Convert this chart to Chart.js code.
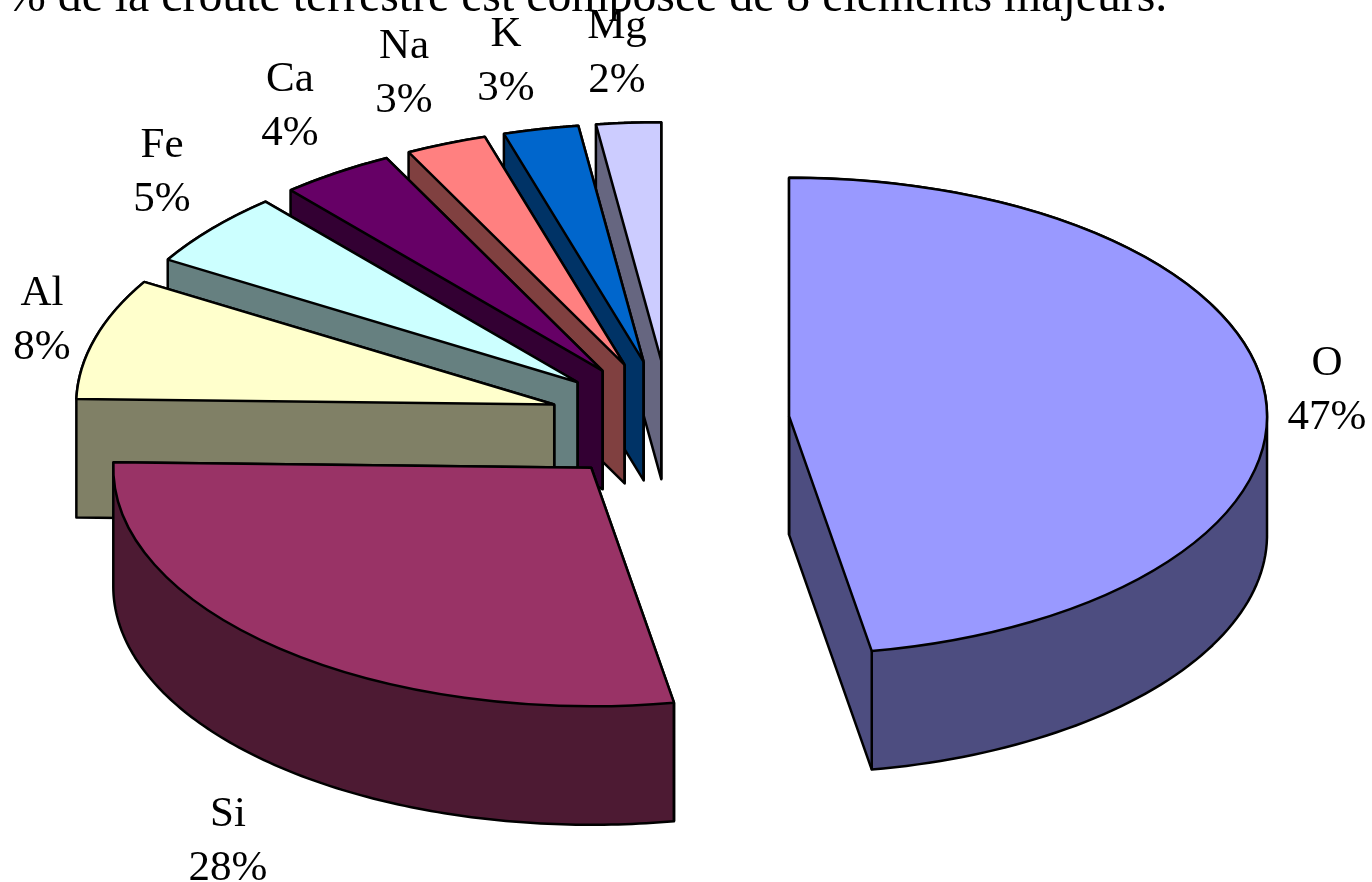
<!DOCTYPE html>
<html lang="fr">
<head>
<meta charset="utf-8">
<title>Croûte terrestre</title>
<script src="https://cdn.jsdelivr.net/npm/chart.js@4"></script>
<style>
  html, body { margin: 0; padding: 0; background: #fff; overflow: hidden; }
  canvas { display: block; }
</style>
</head>
<body>
<canvas id="chart" width="1372" height="882"></canvas>
<script>
const titleText = '% de la croûte terrestre est composée de 8 éléments majeurs.';
const elements = ['O', 'Si', 'Al', 'Fe', 'Ca', 'Na', 'K', 'Mg'];
const percents = [46.5, 27.7, 8.1, 5.0, 3.8, 2.7, 2.5, 2.15];
const topColors = ['#9999ff', '#993366', '#ffffcc', '#ccffff', '#660066', '#ff8080', '#0066cc', '#ccccff'];
const wallColors = ['#4d4d80', '#4d1a33', '#808066', '#668080', '#330033', '#804040', '#003366', '#666680'];

// centre of each label (x, y of the first line), same order as elements
const labelSpots = [[1327, 364], [228, 815], [42, 294], [162, 146], [290, 80], [404, 47], [506, 35], [617, 27]];

const pieWidth = 478;    // half width of the squashed pie
const pieHeight = 238.5; // half height
const pieDepth = 118.5;
const explodeX = 120;    // how far each slice is pulled out
const explodeY = 61;
const backToFront = [0, 7, 6, 5, 4, 3, 2, 1];

// lines keep the same width even though the context is squashed
function keepLineWidth(ctx) {
  const rawStroke = ctx.stroke;
  ctx.stroke = function() {
    this.save();
    this.setTransform(1, 0, 0, 1, 0, 0);
    rawStroke.call(this);
    this.restore();
  };
}

function sliceOrigin(arc) {
  const mid = (arc.startAngle + arc.endAngle) / 2;
  return {
    x: arc.x + Math.cos(mid) * explodeX,
    y: arc.y + Math.sin(mid) * explodeY
  };
}

function rimPoint(arc, angle) {
  const at = sliceOrigin(arc);
  return [at.x + Math.cos(angle) * pieWidth, at.y + Math.sin(angle) * pieHeight];
}

// convex hull, the slice body is the top face swept down by the depth
function hull(points) {
  const sorted = points.slice().sort((a, b) => a[0] - b[0] || a[1] - b[1]);
  const cross = (o, a, b) => (a[0] - o[0]) * (b[1] - o[1]) - (a[1] - o[1]) * (b[0] - o[0]);
  const half = list => {
    const out = [];
    list.forEach(p => {
      while (out.length > 1 && cross(out[out.length - 2], out[out.length - 1], p) <= 0) out.pop();
      out.push(p);
    });
    out.pop();
    return out;
  };
  return half(sorted).concat(half(sorted.slice().reverse()));
}

function drawBody(ctx, arc, color) {
  const at = sliceOrigin(arc);
  const face = [[at.x, at.y]];
  for (let t = 0; t <= 120; t++) {
    face.push(rimPoint(arc, arc.startAngle + (arc.endAngle - arc.startAngle) * t / 120));
  }
  const swept = face.concat(face.map(([x, y]) => [x, y + pieDepth]));
  ctx.beginPath();
  hull(swept).forEach(([x, y], i) => (i ? ctx.lineTo(x, y) : ctx.moveTo(x, y)));
  ctx.closePath();
  ctx.fillStyle = color;
  ctx.fill();
  ctx.lineWidth = 2.5;
  ctx.lineJoin = 'round';
  ctx.strokeStyle = '#000';
  ctx.stroke();

  // apex and front rim corners show an edge, the rest sits under the top face
  const corners = [[at.x, at.y]];
  [arc.startAngle, arc.endAngle].forEach(a => {
    if (Math.sin(a) > 0) corners.push(rimPoint(arc, a));
  });
  corners.forEach(([x, y]) => {
    ctx.beginPath();
    ctx.moveTo(x, y);
    ctx.lineTo(x, y + pieDepth);
    ctx.stroke();
  });
}

function drawTop(ctx, arc) {
  const at = sliceOrigin(arc);
  ctx.save();
  ctx.translate(at.x, at.y);
  ctx.scale(pieWidth / arc.outerRadius, pieHeight / arc.outerRadius);
  ctx.translate(-arc.x, -arc.y);
  arc.draw(ctx);
  ctx.restore();
}

const pie3d = {
  id: 'pie3d',
  beforeDatasetsDraw(chart) {
    const ctx = chart.ctx;
    const arcs = chart.getDatasetMeta(0).data;
    ctx.save();
    keepLineWidth(ctx);
    backToFront.forEach(i => {
      drawBody(ctx, arcs[i], wallColors[i]);
      drawTop(ctx, arcs[i]);
    });
    delete ctx.stroke;
    ctx.restore();
    return false;
  },
  afterDraw(chart) {
    const ctx = chart.ctx;
    const total = percents.reduce((a, b) => a + b, 0);
    ctx.save();
    ctx.fillStyle = '#000';
    ctx.font = '43px "Liberation Serif"';
    ctx.textAlign = 'center';
    ctx.textBaseline = 'middle';
    elements.forEach((name, i) => {
      const [x, y] = labelSpots[i];
      ctx.fillText(name, x, y);
      ctx.fillText(Math.round(percents[i] / total * 100) + '%', x, y + 54);
    });
    ctx.textAlign = 'left';
    ctx.textBaseline = 'alphabetic';
    ctx.font = '47.8px "Liberation Serif"';
    ctx.fillText(titleText, 6, 11);
    ctx.restore();
  }
};

new Chart(document.getElementById('chart'), {
  type: 'pie',
  data: {
    labels: elements,
    datasets: [{ data: percents, backgroundColor: topColors, borderColor: '#000', borderWidth: 2.5 }]
  },
  options: {
    responsive: false,
    animation: false,
    events: [],
    layout: { padding: { right: 33, bottom: 39 } },
    plugins: { legend: { display: false }, tooltip: { enabled: false } }
  },
  plugins: [pie3d]
});
</script>
</body>
</html>
